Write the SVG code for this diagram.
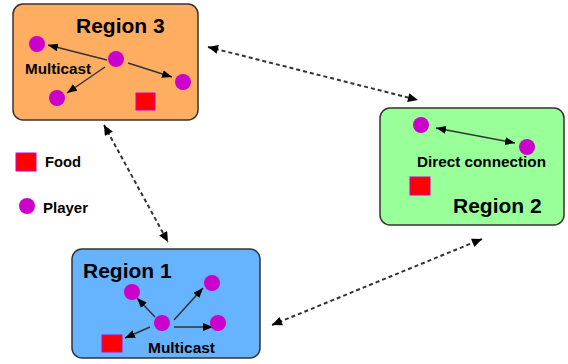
<svg xmlns="http://www.w3.org/2000/svg" width="568" height="364" viewBox="0 0 568 364">
<style>
.region{stroke:#333;stroke-width:1.5}
.title{font-family:"Liberation Sans",Arial,sans-serif;font-size:21px;font-weight:bold;fill:#000}
.lbl{font-family:"Liberation Sans",Arial,sans-serif;font-size:14px;font-weight:bold;fill:#000}
.player{fill:#CC00CC}
.food{fill:#FF0000;stroke:#CC00CC;stroke-width:1}
.arrow{stroke:#333;stroke-width:1.5;fill:none;marker-end:url(#ah)}
.darrow{stroke:#333;stroke-width:1.5;fill:none;marker-start:url(#ah);marker-end:url(#ah)}
.dash{stroke:#333;stroke-width:2;fill:none;stroke-dasharray:4 3;marker-start:url(#dh);marker-end:url(#dh)}
</style>
<defs>
<marker id="ah" viewBox="0 0 10 8" refX="10" refY="4" markerWidth="10" markerHeight="8" markerUnits="userSpaceOnUse" orient="auto-start-reverse">
<path d="M0,0 L10,4 L0,8 z" fill="#000"/>
</marker>
<marker id="dh" viewBox="0 0 10 9" refX="10" refY="4.5" markerWidth="11" markerHeight="9" markerUnits="userSpaceOnUse" orient="auto-start-reverse">
<path d="M0,0 L10,4.5 L0,9 z" fill="#000"/>
</marker>
</defs>
<rect width="568" height="364" fill="#fff"/>
<g id="connectors">
<line class="dash" x1="208" y1="47" x2="418" y2="100"/>
<line class="dash" x1="104" y1="125" x2="168" y2="242"/>
<line class="dash" x1="272" y1="325" x2="482" y2="239"/>
</g>
<g id="region3">
<rect class="region" x="13" y="4" width="185" height="116" rx="10" fill="#FFAD60"/>
<text class="title" x="76" y="33">Region 3</text>
<line class="arrow" x1="107" y1="60" x2="48" y2="45"/>
<line class="arrow" x1="105" y1="67" x2="67" y2="93"/>
<line class="arrow" x1="128" y1="63" x2="172" y2="77"/>
<circle class="player" cx="37" cy="44" r="8"/>
<circle class="player" cx="116" cy="59" r="8"/>
<circle class="player" cx="183" cy="82" r="8"/>
<circle class="player" cx="57" cy="98" r="8"/>
<rect class="food" x="136" y="93" width="19" height="17"/>
<text class="lbl" x="25" y="74" textLength="66" lengthAdjust="spacingAndGlyphs">Multicast</text>
</g>
<g id="region2">
<rect class="region" x="380" y="108" width="184" height="117" rx="10" fill="#99FF99"/>
<line class="darrow" x1="436" y1="128" x2="515" y2="143"/>
<circle class="player" cx="421" cy="125" r="8"/>
<circle class="player" cx="527" cy="147" r="8"/>
<text class="lbl" x="417" y="167" textLength="129" lengthAdjust="spacingAndGlyphs">Direct connection</text>
<rect class="food" x="410" y="177" width="20" height="18"/>
<text class="title" x="453" y="213">Region 2</text>
</g>
<g id="region1">
<rect class="region" x="72" y="249" width="188" height="109" rx="10" fill="#66B3FF"/>
<text class="title" x="83" y="278">Region 1</text>
<line class="arrow" x1="155" y1="317" x2="137" y2="298"/>
<line class="arrow" x1="174" y1="320" x2="203" y2="288"/>
<line class="arrow" x1="174" y1="327" x2="213" y2="327"/>
<line class="arrow" x1="150" y1="327" x2="125" y2="338"/>
<circle class="player" cx="132" cy="292" r="8"/>
<circle class="player" cx="212" cy="283" r="8"/>
<circle class="player" cx="162" cy="323" r="8"/>
<circle class="player" cx="218" cy="323" r="8"/>
<rect class="food" x="102" y="335" width="20" height="17"/>
<text class="lbl" x="148" y="353" textLength="67" lengthAdjust="spacingAndGlyphs">Multicast</text>
</g>
<g id="legend">
<rect class="food" x="16" y="153" width="20" height="18"/>
<text class="lbl" x="45" y="167" textLength="36" lengthAdjust="spacingAndGlyphs">Food</text>
<circle class="player" cx="27" cy="206" r="8"/>
<text class="lbl" x="43" y="213" textLength="45" lengthAdjust="spacingAndGlyphs">Player</text>
</g>
</svg>
